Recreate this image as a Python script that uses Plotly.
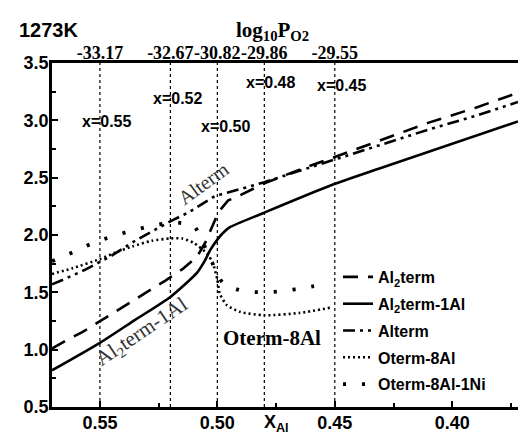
import plotly.graph_objects as go

# ---------------- data ----------------
al2term_x = [0.5704, 0.5645, 0.5577, 0.5521, 0.5436, 0.5372, 0.5287, 0.5223, 0.515, 0.5087,
             0.505, 0.503, 0.501, 0.4995, 0.4955, 0.49, 0.48, 0.465, 0.45, 0.43, 0.41, 0.39, 0.372]
al2term_y = [1.01, 1.08, 1.15, 1.22, 1.33, 1.41, 1.52, 1.60, 1.70, 1.81,
             1.94, 2.03, 2.13, 2.20, 2.30, 2.35, 2.45, 2.57, 2.68, 2.83, 2.98, 3.11, 3.24]

al2term1al_x = [0.5704, 0.55, 0.535, 0.52, 0.5087, 0.5055, 0.503, 0.500, 0.4975, 0.4945,
                0.4806, 0.4508, 0.431, 0.372]
al2term1al_y = [0.82, 1.06, 1.26, 1.46, 1.67, 1.77, 1.87, 1.96, 2.02, 2.07,
                2.19, 2.44, 2.58, 2.99]

alterm_x = [0.5704, 0.5657, 0.556, 0.545, 0.535, 0.527, 0.519, 0.512, 0.5066, 0.501,
            0.4955, 0.49, 0.48, 0.465, 0.45, 0.43, 0.41, 0.39, 0.372]
alterm_y = [1.57, 1.61, 1.70, 1.82, 1.95, 2.04, 2.13, 2.20, 2.27, 2.34,
            2.37, 2.40, 2.46, 2.56, 2.66, 2.79, 2.92, 3.04, 3.16]

oterm8al_x = [0.5704, 0.5617, 0.55, 0.543, 0.5362, 0.528, 0.52, 0.515, 0.51, 0.5045,
              0.502, 0.500, 0.499, 0.496, 0.4904, 0.48, 0.465, 0.451]
oterm8al_y = [1.66, 1.71, 1.79, 1.85, 1.90, 1.95, 1.97, 1.97, 1.93, 1.84,
              1.76, 1.61, 1.49, 1.39, 1.33, 1.30, 1.32, 1.37]

oterm8al1ni_x = [0.5704, 0.5615, 0.553, 0.5445, 0.536, 0.528, 0.519, 0.510, 0.5066, 0.503,
                 0.500, 0.497, 0.489, 0.48, 0.472, 0.463, 0.454]
oterm8al1ni_y = [1.77, 1.85, 1.93, 1.99, 2.04, 2.08, 2.11, 2.08, 1.95, 1.80,
                 1.65, 1.57, 1.51, 1.50, 1.51, 1.54, 1.57]

# compositions marked with vertical lines and their log10 pO2 values
comp_x = [0.55, 0.52, 0.50, 0.48, 0.45]
comp_labels = ["x=0.55", "x=0.52", "x=0.50", "x=0.48", "x=0.45"]
comp_label_pos_x = [0.547, 0.5168, 0.4964, 0.4772, 0.447]
comp_label_pos_y = [2.99, 3.19, 2.95, 3.33, 3.30]
logpo2_labels = ["-33.17", "-32.67", "-30.82", "-29.86", "-29.55"]

x_range = [0.5704, 0.372]
y_range = [0.5, 3.5]

ARIAL = "Liberation Sans, Arial, sans-serif"
TIMES = "Liberation Serif, Times New Roman, serif"

# plot-area geometry in page pixels
L, R, T, B = 52, 518, 63, 407
PW, PH = R - L, B - T


def px(xp):
    return (xp - L) / PW


def py(yp):
    return (B - yp) / PH


fig = go.Figure()

# vertical dotted composition lines (drawn on top axis, same scale)
for cx in comp_x:
    fig.add_trace(go.Scatter(x=[cx, cx], y=y_range, mode="lines", xaxis="x2",
                             line=dict(color="black", width=1.2, dash="dot"),
                             showlegend=False, hoverinfo="skip"))

fig.add_trace(go.Scatter(x=al2term_x, y=al2term_y, mode="lines", name="Al<sub>2</sub>term",
                         legendgroup="a",
                         line=dict(color="black", width=2.6, dash="15px,10px")))
fig.add_trace(go.Scatter(x=al2term1al_x, y=al2term1al_y, mode="lines", name="Al<sub>2</sub>term-1Al",
                         legendgroup="b",
                         line=dict(color="black", width=2.6, shape="spline", smoothing=0.6)))
fig.add_trace(go.Scatter(x=alterm_x, y=alterm_y, mode="lines", name="Alterm",
                         legendgroup="c",
                         line=dict(color="black", width=2.6, dash="12px,5px,3px,5px,3px,5px")))
fig.add_trace(go.Scatter(x=oterm8al_x, y=oterm8al_y, mode="lines", name="Oterm-8Al",
                         legendgroup="d",
                         line=dict(color="black", width=2.6, dash="2px,3px", shape="spline", smoothing=0.6)))
fig.add_trace(go.Scatter(x=oterm8al1ni_x, y=oterm8al1ni_y, mode="lines", name="Oterm-8Al-1Ni",
                         legendgroup="e",
                         line=dict(color="black", width=3.8, dash="3px,16px", shape="spline", smoothing=0.6)))

annotations = []
for lx, ly, t in zip(comp_label_pos_x, comp_label_pos_y, comp_labels):
    annotations.append(dict(x=lx, y=ly, xref="x", yref="y", text=t, showarrow=False,
                            font=dict(family=ARIAL, size=16, color="black", weight="bold"),
                            xanchor="center", yanchor="middle"))
annotations += [
    dict(x=0.5057, y=2.45, xref="x", yref="y", text="Alterm", textangle=-36, showarrow=False,
         font=dict(family=TIMES, size=20, color="#333333")),
    dict(x=0.5321, y=1.155, xref="x", yref="y", text="Al<sub>2</sub>term-1Al", textangle=-34,
         showarrow=False, font=dict(family=TIMES, size=21, color="#333333")),
    dict(x=0.4768, y=1.10, xref="x", yref="y", text="Oterm-8Al", showarrow=False,
         font=dict(family=TIMES, size=21, color="black", weight="bold")),
    dict(x=px(48), y=py(30), xref="paper", yref="paper", text="1273K",
         showarrow=False, xanchor="center", yanchor="middle",
         font=dict(family=ARIAL, size=20, color="black", weight="bold")),
    dict(x=px(272), y=py(31), xref="paper", yref="paper",
         text="log<sub>10</sub>P<sub>O2</sub>", showarrow=False,
         font=dict(family=TIMES, size=21, color="black", weight="bold"),
         xanchor="center", yanchor="middle"),
    dict(x=px(276), y=py(423), xref="paper", yref="paper",
         text="X<sub>Al</sub>", showarrow=False,
         font=dict(family=ARIAL, size=18, color="black", weight="bold"),
         xanchor="center", yanchor="middle"),
]

fig.update_layout(
    width=518, height=438,
    margin=dict(l=L, r=518 - R, t=T, b=438 - B),
    paper_bgcolor="white", plot_bgcolor="white",
    font=dict(family=ARIAL, color="black"),
    showlegend=True,
    legend=dict(x=px(338), y=py(260), xanchor="left", yanchor="top",
                bgcolor="rgba(0,0,0,0)", borderwidth=0,
                font=dict(family=ARIAL, size=16, color="black", weight="bold"),
                tracegroupgap=3, itemwidth=30),
    xaxis=dict(range=x_range, showgrid=False, zeroline=False,
               showline=True, linecolor="black", linewidth=2.5, mirror=True,
               ticks="inside", ticklen=6, tickwidth=2, tickcolor="black",
               tick0=0.40, dtick=0.05, tickformat=".2f", ticklabelstandoff=-2,
               tickfont=dict(family=ARIAL, size=18, color="black", weight="bold"),
               minor=dict(ticks="inside", ticklen=4, tickwidth=2, tickcolor="black", dtick=0.025)),
    xaxis2=dict(range=x_range, overlaying="x", side="top", showgrid=False, zeroline=False,
                showline=False, ticks="", tickvals=comp_x, ticktext=logpo2_labels, tickangle=0,
                ticklabelstandoff=-1,
                tickfont=dict(family=TIMES, size=18, color="black", weight="bold")),
    yaxis=dict(range=y_range, showgrid=False, zeroline=False,
               showline=True, linecolor="black", linewidth=2.5,
               ticks="inside", ticklen=6, tickwidth=2, tickcolor="black",
               tick0=0.5, dtick=0.5, tickformat=".1f", ticklabelstandoff=-3,
               tickfont=dict(family=ARIAL, size=18, color="black", weight="bold"),
               minor=dict(ticks="inside", ticklen=4, tickwidth=2, tickcolor="black", dtick=0.25)),
    annotations=annotations,
)

fig.write_html("out.html", config={"displayModeBar": False},
               post_script="document.body.style.margin='0px';")
